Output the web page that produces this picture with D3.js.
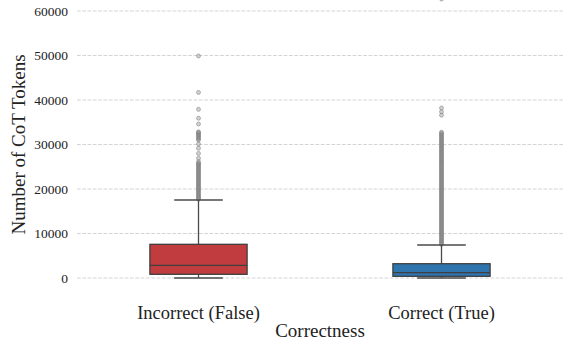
<!DOCTYPE html>
<html>
<head>
<meta charset="utf-8">
<script src="https://cdn.jsdelivr.net/npm/d3@7"></script>
<style>
  html, body { margin: 0; padding: 0; background: #fff; }
  svg { display: block; }
  text { font-family: "Liberation Serif", "Times New Roman", serif; fill: #222; }
</style>
</head>
<body>
<svg id="chart" width="570" height="340"></svg>
<script>
// Categories and box statistics (CoT token counts)
const categories = ["Incorrect (False)", "Correct (True)"];
const boxColors = ["#c03c3f", "#2e75b0"];
const whiskerLow = [0, 0];
const q1 = [830, 380];
const median = [2850, 1190];
const q3 = [7570, 3210];
const whiskerHigh = [17530, 7420];

// Outlying answers beyond the upper whisker
const outliersIncorrect = [
  17700, 17900, 18150, 18400, 18650, 18900, 19150, 19400, 19650, 19900,
  20150, 20400, 20650, 20900, 21150, 21400, 21650, 21900, 22150, 22400,
  22650, 22900, 23150, 23400, 23650, 23900, 24150, 24400, 24650, 24900,
  25150, 25400, 25650, 25800, 26150, 26900, 28000, 29150, 30100, 31000,
  31250, 31500, 31750, 32000, 32250, 32500, 32700, 32850, 34600, 35900,
  37900, 41700, 49900
];
const outliersCorrect = [
  7550, 7800, 8050, 8300, 8550, 8800, 9050, 9300, 9550, 9800,
  10050, 10300, 10550, 10800, 11050, 11300, 11550, 11800, 12050, 12300,
  12550, 12800, 13050, 13300, 13550, 13800, 14050, 14300, 14550, 14800,
  15050, 15300, 15550, 15800, 16050, 16300, 16550, 16800, 17050, 17300,
  17550, 17800, 18050, 18300, 18550, 18800, 19050, 19300, 19550, 19800,
  20050, 20300, 20550, 20800, 21050, 21300, 21550, 21800, 22050, 22300,
  22550, 22800, 23050, 23300, 23550, 23800, 24050, 24300, 24550, 24800,
  25050, 25300, 25550, 25800, 26050, 26300, 26550, 26800, 27050, 27300,
  27550, 27800, 28050, 28300, 28550, 28800, 29050, 29300, 29550, 29800,
  30050, 30300, 30550, 30800, 31050, 31300, 31550, 31800, 32050, 32300,
  32550, 32750, 36600, 37350, 38200, 62700
];
const outliers = [outliersIncorrect, outliersCorrect];

const yTicks = [0, 10000, 20000, 30000, 40000, 50000, 60000];

const svg = d3.select("#chart");
const plotLeft = 77, plotRight = 563, plotTop = 11, plotBottom = 278;

const x = d3.scaleBand().domain(categories).range([plotLeft, plotRight]).padding(0);
const y = d3.scaleLinear().domain([0, 60000]).range([plotBottom, plotTop]);

// Horizontal dashed grid
svg.append("g")
  .selectAll("line")
  .data(yTicks)
  .join("line")
  .attr("x1", plotLeft).attr("x2", plotRight)
  .attr("y1", d => y(d)).attr("y2", d => y(d))
  .attr("stroke", "#cfcfcf")
  .attr("stroke-width", 0.9)
  .attr("stroke-dasharray", "3.7,1.6");

// Y axis tick labels (no axis line)
const yAxis = d3.axisLeft(y).tickValues(yTicks).tickSize(0).tickPadding(9)
  .tickFormat(d3.format("d"));
svg.append("g")
  .attr("transform", `translate(${plotLeft},0)`)
  .call(yAxis)
  .attr("font-family", "Liberation Serif, serif")
  .attr("font-size", 13.5)
  .call(g => g.select(".domain").remove())
  .call(g => g.selectAll("text").attr("fill", "#333"));

// X axis tick labels
const xAxis = d3.axisBottom(x).tickSize(0).tickPadding(0);
svg.append("g")
  .attr("transform", `translate(0,${plotBottom})`)
  .call(xAxis)
  .attr("font-family", "Liberation Serif, serif")
  .attr("font-size", 18.5)
  .call(g => g.select(".domain").remove())
  .call(g => g.selectAll("text")
    .attr("y", 41)
    .attr("dy", 0)
    .attr("fill", "#222"));

const boxW = x.bandwidth() * 0.4;
const capW = boxW / 2;
const lineColor = "#4a4a4a";

const groups = svg.append("g")
  .selectAll("g")
  .data(categories.map((c, i) => ({ c, i })))
  .join("g")
  .attr("transform", d => `translate(${x(d.c) + x.bandwidth() / 2},0)`);

// Outlier points
groups.each(function (d) {
  d3.select(this).append("g")
    .selectAll("circle")
    .data(outliers[d.i])
    .join("circle")
    .attr("cx", 0)
    .attr("cy", v => y(v))
    .attr("r", 2.0)
    .attr("fill", "#8c8c8c")
    .attr("fill-opacity", 0.4)
    .attr("stroke", "#808080")
    .attr("stroke-opacity", 0.6)
    .attr("stroke-width", 0.9);
});

// Whiskers
groups.append("line")
  .attr("x1", 0).attr("x2", 0)
  .attr("y1", d => y(q3[d.i])).attr("y2", d => y(whiskerHigh[d.i]))
  .attr("stroke", lineColor).attr("stroke-width", 1.3);
groups.append("line")
  .attr("x1", 0).attr("x2", 0)
  .attr("y1", d => y(q1[d.i])).attr("y2", d => y(whiskerLow[d.i]))
  .attr("stroke", lineColor).attr("stroke-width", 1.3);
groups.append("line")
  .attr("x1", -capW / 2).attr("x2", capW / 2)
  .attr("y1", d => y(whiskerHigh[d.i])).attr("y2", d => y(whiskerHigh[d.i]))
  .attr("stroke", lineColor).attr("stroke-width", 1.3);
groups.append("line")
  .attr("x1", -capW / 2).attr("x2", capW / 2)
  .attr("y1", d => y(whiskerLow[d.i])).attr("y2", d => y(whiskerLow[d.i]))
  .attr("stroke", lineColor).attr("stroke-width", 1.3);

// Boxes
groups.append("rect")
  .attr("x", -boxW / 2)
  .attr("width", boxW)
  .attr("y", d => y(q3[d.i]))
  .attr("height", d => y(q1[d.i]) - y(q3[d.i]))
  .attr("fill", d => boxColors[d.i])
  .attr("stroke", "#3f3f3f")
  .attr("stroke-width", 1.3);

// Medians
groups.append("line")
  .attr("x1", -boxW / 2).attr("x2", boxW / 2)
  .attr("y1", d => y(median[d.i])).attr("y2", d => y(median[d.i]))
  .attr("stroke", "#3f3f3f").attr("stroke-width", 1.3);

// Axis titles
svg.append("text")
  .attr("x", (plotLeft + plotRight) / 2)
  .attr("y", 337)
  .attr("text-anchor", "middle")
  .style("font-size", "19px")
  .text("Correctness");

svg.append("text")
  .attr("transform", `translate(25,${(plotTop + plotBottom) / 2}) rotate(-90)`)
  .attr("text-anchor", "middle")
  .style("font-size", "19px")
  .text("Number of CoT Tokens");
</script>
</body>
</html>
